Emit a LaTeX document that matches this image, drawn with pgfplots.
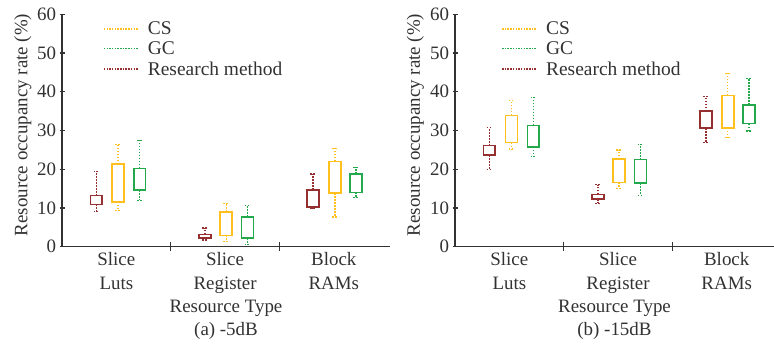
\documentclass[border=0pt]{standalone}
\usepackage{pgfplots}
\pgfplotsset{compat=1.18}
\usepgfplotslibrary{statistics}
\usepackage{fontspec}
\setmainfont{Liberation Serif}
\definecolor{rmcol}{RGB}{150,48,48}
\definecolor{cscol}{RGB}{255,192,30}
\definecolor{gccol}{RGB}{36,168,76}
\definecolor{txt}{RGB}{50,50,50}
\pgfplotsset{
  rm/.style={draw=rmcol, forget plot},
  cs/.style={draw=cscol, forget plot},
  gc/.style={draw=gccol, forget plot},
  panel/.style={
    scale only axis, height=232.4bp,
    xmin=0.5, ymin=0, ymax=60,
    axis lines=left, axis line style={-, line width=1.1bp, color=txt},
    ytick={0,10,...,60},
    xtick={1.5,2.5}, xticklabels={},
    major tick length=5bp,
    tick style={line width=1.1bp, color=txt},
    xtick style={/pgfplots/major tick length=9bp},
    extra x ticks={1,2,3},
    extra x tick labels={Slice\\Luts, Slice\\Register, Block\\RAMs},
    extra x tick style={tick style={draw=none}},
    xticklabel style={align=center, font=\fontsize{19}{23.4}\selectfont, text=txt},
    yticklabel style={font=\fontsize{19}{20}\selectfont, text=txt},
    /pgf/number format/assume math mode=true,
    ylabel={Resource occupancy rate (\%)},
    ylabel style={anchor=center, font=\fontsize{19}{23}\selectfont, text=txt, inner sep=0pt},
    xlabel style={at={(axis description cs:0.5,0)}, anchor=north, yshift=-53bp, inner sep=0pt, align=center, font=\fontsize{19}{23.6}\selectfont, text=txt},
    boxplot/draw direction=y,
    boxplot/box extend=0.11,
    boxplot/whisker extend=0.05,
    boxplot/every box/.style={line width=1.5bp, solid},
    boxplot/every median/.style={line width=1.5bp, solid},
    boxplot/every whisker/.style={line width=1.3bp, dash pattern=on 1.6bp off 1.4bp},
    legend cell align=left,
    legend image code/.code={\draw[#1, line width=1.2bp] (0bp,0bp) -- (34bp,0bp);},
    legend style={draw=none, fill=none, anchor=north west, inner sep=0pt,
      font=\fontsize{19.5}{21}\selectfont, text=txt, row sep=2.5bp,
      nodes={inner sep=1.5bp},
      /tikz/every odd column/.append style={column sep=8bp}},
  },
}
\newcommand{\bx}[6]{\addplot[#1, boxplot prepared={draw position=#2, lower whisker=#3, lower quartile=#4, median=#4, upper quartile=#5, upper whisker=#6}] coordinates {};}
\begin{document}
\begin{tikzpicture}
\begin{axis}[panel, at={(62bp,97.3bp)}, anchor=south west, width=328bp, xmax=3.517,
  xlabel={Resource Type\\(a) -5dB},
  ylabel style={at={(axis description cs:-0.119,0.524)}},
  legend style={at={(axis description cs:0.125,0.975)}}]
\addlegendimage{cscol, dash pattern=on 1.5bp off 1.2bp}\addlegendentry{CS}
\addlegendimage{gccol, dash pattern=on 1.5bp off 1.2bp}\addlegendentry{GC}
\addlegendimage{rmcol, dash pattern=on 1.5bp off 1.2bp}\addlegendentry{Research method}
% Slice Luts
\bx{rm}{0.815}{9.0}{10.9}{13.2}{19.5}
\bx{cs}{1.015}{9.4}{11.6}{21.3}{26.3}
\bx{gc}{1.215}{12.0}{14.6}{20.2}{27.5}
% Slice Register
\bx{rm}{1.815}{1.7}{2.3}{3.2}{4.8}
\bx{cs}{2.01}{1.4}{2.9}{9.0}{11.2}
\bx{gc}{2.205}{0.6}{2.2}{7.7}{10.6}
% Block RAMs
\bx{rm}{2.81}{9.8}{10.2}{14.7}{18.8}
\bx{cs}{3.01}{7.7}{13.8}{22.0}{25.4}
\bx{gc}{3.205}{12.7}{14.0}{18.8}{20.5}
\end{axis}
\begin{axis}[panel, at={(455bp,97.3bp)}, anchor=south west, width=319bp, xmax=3.435,
  xlabel={Resource Type\\(b) -15dB},
  ylabel style={at={(axis description cs:-0.124,0.524)}},
  legend style={at={(axis description cs:0.145,0.975)}}]
\addlegendimage{cscol, dash pattern=on 1.5bp off 1.2bp}\addlegendentry{CS}
\addlegendimage{gccol, dash pattern=on 1.5bp off 1.2bp}\addlegendentry{GC}
\addlegendimage{rmcol, dash pattern=on 1.5bp off 1.2bp}\addlegendentry{Research method}
% Slice Luts
\bx{rm}{0.815}{20.0}{23.7}{26.1}{30.7}
\bx{cs}{1.02}{25.2}{26.9}{33.9}{37.7}
\bx{gc}{1.22}{23.2}{25.8}{31.3}{38.6}
% Slice Register
\bx{rm}{1.815}{11.2}{12.3}{13.5}{16.0}
\bx{cs}{2.01}{15.1}{16.6}{22.6}{25.0}
\bx{gc}{2.205}{13.3}{16.4}{22.5}{26.4}
% Block RAMs
\bx{rm}{2.81}{26.9}{30.6}{35.0}{38.7}
\bx{cs}{3.01}{28.2}{30.7}{39.1}{44.8}
\bx{gc}{3.205}{29.9}{31.8}{36.6}{43.5}
\end{axis}
\pgfresetboundingbox
\useasboundingbox (0,0) rectangle (774bp,344bp);
\end{tikzpicture}
\end{document}
